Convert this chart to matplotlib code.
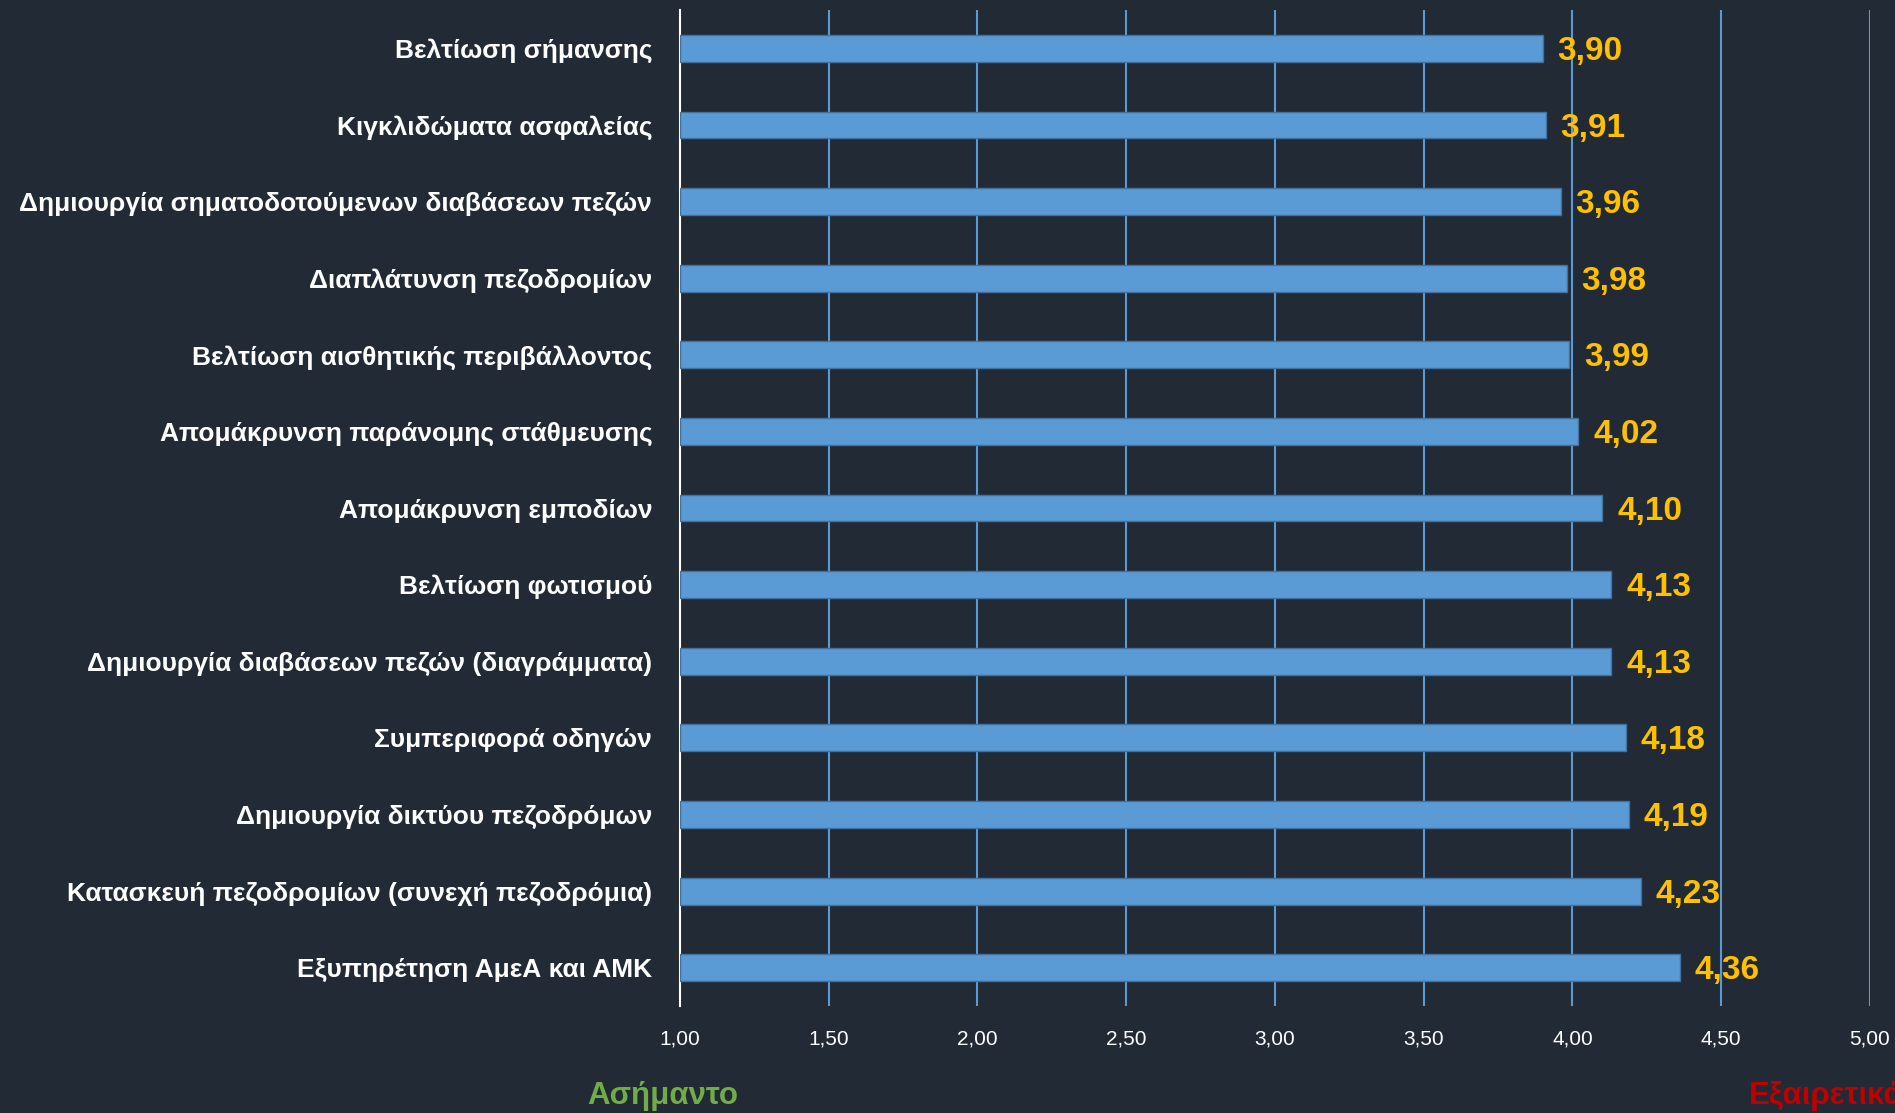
import numpy as np
import matplotlib.pyplot as plt
from matplotlib import font_manager

categories = ['Βελτίωση σήμανσης', 'Κιγκλιδώματα ασφαλείας',
              'Δημιουργία σηματοδοτούμενων διαβάσεων πεζών', 'Διαπλάτυνση πεζοδρομίων',
              'Βελτίωση αισθητικής περιβάλλοντος', 'Απομάκρυνση παράνομης στάθμευσης',
              'Απομάκρυνση εμποδίων', 'Βελτίωση φωτισμού',
              'Δημιουργία διαβάσεων πεζών (διαγράμματα)', 'Συμπεριφορά οδηγών',
              'Δημιουργία δικτύου πεζοδρόμων', 'Κατασκευή πεζοδρομίων (συνεχή πεζοδρόμια)',
              'Εξυπηρέτηση ΑμεΑ και ΑΜΚ']
scores = [3.90, 3.91, 3.96, 3.98, 3.99, 4.02, 4.10, 4.13, 4.13, 4.18, 4.19, 4.23, 4.36]
xticks = [1.0, 1.5, 2.0, 2.5, 3.0, 3.5, 4.0, 4.5, 5.0]

names = {f.name for f in font_manager.fontManager.ttflist}
fam = ['Liberation Sans Narrow', 'Liberation Sans', 'DejaVu Sans']
fam = [f for f in fam if f in names] or ['DejaVu Sans']
narrow = fam[0] == 'Liberation Sans Narrow'
plt.rcParams['font.family'] = fam

# sizes chosen so the text widths match the condensed font of the original
cat_size = 23 if narrow else 19
val_size = 28 if narrow else 24
tick_size = 17 if narrow else 15
note_size = 25 if narrow else 22.5

bg = '#222a35'
blue = '#5b9bd5'

fig = plt.figure(figsize=(18.95, 11.13), dpi=100, facecolor=bg)
ax = fig.add_axes([0.3588, 0.0961, 0.628, 0.8949], facecolor=bg)

y = np.arange(len(categories))
ax.barh(y, np.array(scores) - 1.0, left=1.0, height=0.35, color=blue,
        edgecolor='#41719c', linewidth=1, zorder=3)

for yi, v in zip(y, scores):
    ax.text(v + 0.05, yi + 0.04, f'{v:.2f}'.replace('.', ','), color='#ffc000',
            fontsize=val_size, fontweight='bold', va='center', ha='left', zorder=4)

ax.set_xlim(1.0, 5.0)
ax.set_ylim(len(categories) - 0.5, -0.5)
ax.set_xticks(xticks)
ax.set_xticklabels([f'{t:.2f}'.replace('.', ',') for t in xticks])
ax.set_yticks(y)
ax.set_yticklabels(categories)
ax.tick_params(axis='x', length=0, pad=17, labelsize=tick_size, labelcolor='white')
ax.tick_params(axis='y', length=0, pad=20, labelsize=cat_size, labelcolor='white')
for lab in ax.get_yticklabels():
    lab.set_fontweight('bold')

for t in xticks[1:]:
    ax.axvline(t, color=blue, linewidth=1.5, zorder=1)

for s in ['top', 'right', 'bottom']:
    ax.spines[s].set_visible(False)
ax.spines['left'].set_color('white')
ax.spines['left'].set_linewidth(1.5)

fig.text(0.3495, 0.008, 'Ασήμαντο', color='#70ad47', fontsize=note_size, fontweight='bold',
         ha='center', va='baseline')
fig.text(0.923, 0.008, 'Εξαιρετικά', color='#c00000', fontsize=note_size, fontweight='bold',
         ha='left', va='baseline')

fig.savefig('out.png', dpi=100, facecolor=bg)
